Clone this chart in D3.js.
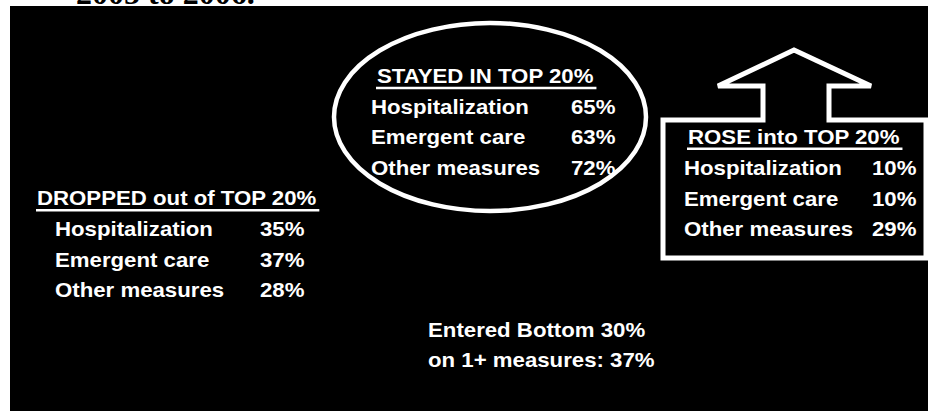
<!DOCTYPE html>
<html>
<head>
<meta charset="utf-8">
<script src="https://cdn.jsdelivr.net/npm/d3@7"></script>
<style>
  html, body { margin: 0; padding: 0; background: #fff; }
  svg { display: block; }
</style>
</head>
<body>
<div id="chart"></div>
<script>
// measures reported in each group
var measures = ["Hospitalization", "Emergent care", "Other measures"];

// share of practices per measure, 2005 to 2006
var droppedPct = [35, 37, 28];
var stayedPct = [65, 63, 72];
var rosePct = [10, 10, 29];
var bottomPct = 37;

var titleText = "2005 to 2006.";

var width = 930, height = 411;
var font = "'Liberation Sans', Arial, sans-serif";
var fontSize = 19.5;
var stretch = 1.14;   // the original text is a bit wider than plain Arial

var svg = d3.select("#chart").append("svg")
  .attr("width", width)
  .attr("height", height);

// title, mostly hidden behind the black panel
svg.append("text")
  .attr("x", 76)
  .attr("y", 4)
  .style("font-family", "'Liberation Serif', 'Times New Roman', serif")
  .style("font-weight", "bold")
  .style("font-size", "32px")
  .text(titleText);

svg.append("rect")
  .attr("x", 10)
  .attr("y", 6)
  .attr("width", 918)
  .attr("height", height - 6)
  .attr("fill", "#000");

// ellipse round the "stayed" group
svg.append("ellipse")
  .attr("cx", 490)
  .attr("cy", 117)
  .attr("rx", 156)
  .attr("ry", 94)
  .attr("fill", "none")
  .attr("stroke", "#fff")
  .attr("stroke-width", 4.5);

// up arrow round the "rose" group
var arrow = [[663, 120], [763, 120], [763, 86], [718, 86], [794, 50], [871, 86],
             [829, 86], [829, 120], [926, 120], [926, 258], [663, 258]];
svg.append("polygon")
  .attr("points", arrow.map(function(p) { return p.join(","); }).join(" "))
  .attr("fill", "none")
  .attr("stroke", "#fff")
  .attr("stroke-width", 5)
  .attr("stroke-linejoin", "miter");

function addText(g, x, y, str) {
  return g.append("text")
    .attr("transform", "translate(" + x + "," + y + ") scale(" + stretch + ",1)")
    .style("font-family", font)
    .style("font-weight", "bold")
    .style("font-size", fontSize + "px")
    .attr("fill", "#fff")
    .text(str);
}

// one block: underlined heading, then label / percent rows
function drawBlock(cfg) {
  var g = svg.append("g");
  var head = addText(g, cfg.x, cfg.headY, cfg.title);
  var w = head.node().getComputedTextLength() * stretch;
  g.append("line")
    .attr("x1", cfg.x - 1)
    .attr("x2", cfg.x + w + 3)
    .attr("y1", cfg.lineY)
    .attr("y2", cfg.lineY)
    .attr("stroke", "#fff")
    .attr("stroke-width", 2.5);

  var y = d3.scaleLinear().domain([0, 1]).range([cfg.rowY, cfg.rowY + 30.5]);
  measures.forEach(function(m, i) {
    addText(g, cfg.labelX, y(i), m);
    addText(g, cfg.valueX, y(i), cfg.values[i] + "%");
  });
}

drawBlock({title: "DROPPED out of TOP 20%", x: 37, headY: 205, lineY: 210.3,
           labelX: 55, valueX: 260, rowY: 236, values: droppedPct});
drawBlock({title: "STAYED IN TOP 20%", x: 377, headY: 83, lineY: 88,
           labelX: 371, valueX: 571, rowY: 113.5, values: stayedPct});
drawBlock({title: "ROSE into TOP 20%", x: 688, headY: 144, lineY: 148.8,
           labelX: 684, valueX: 872, rowY: 175, values: rosePct});

var bottom = svg.append("g");
addText(bottom, 428, 337, "Entered Bottom 30%");
addText(bottom, 428, 367, "on 1+ measures: " + bottomPct + "%");
</script>
</body>
</html>
